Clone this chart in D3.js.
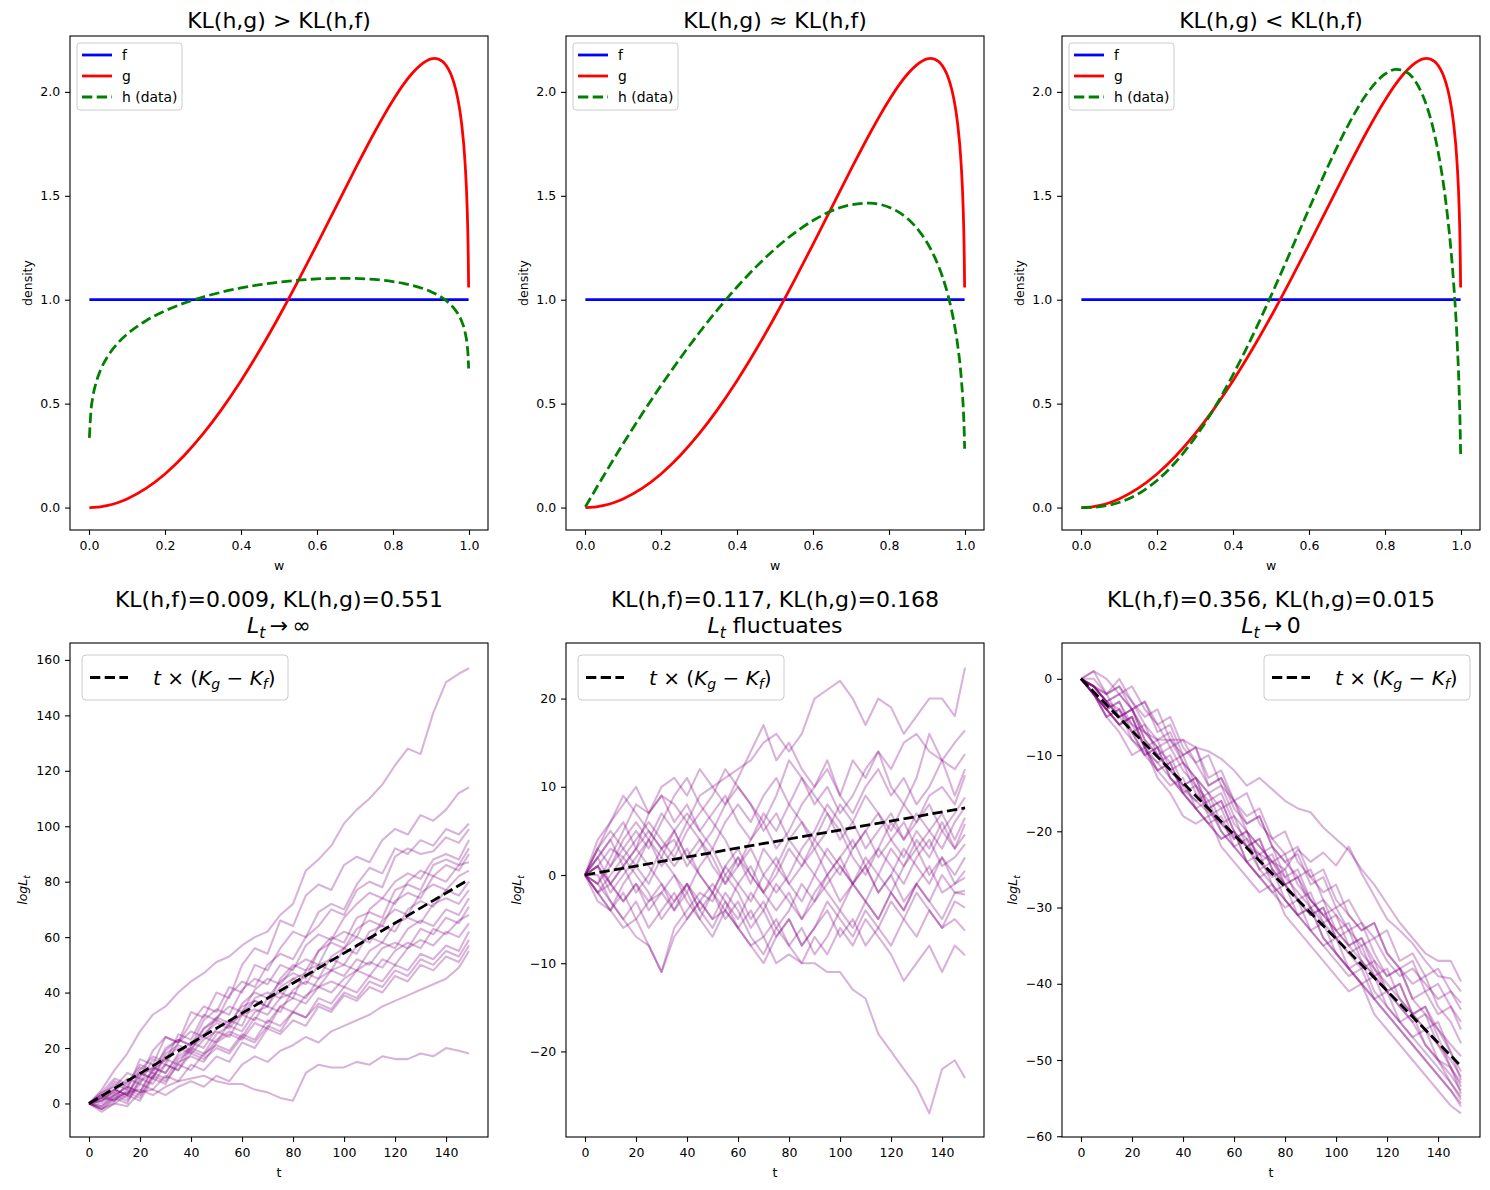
<!DOCTYPE html>
<html>
<head>
<meta charset="utf-8">
<script src="https://cdnjs.cloudflare.com/ajax/libs/d3/7.8.5/d3.min.js"></script>
<style>
  body { margin: 0; background: #ffffff; }
  svg text { font-family: "DejaVu Sans", sans-serif; fill: #000; }
</style>
</head>
<body>
<div id="chart"></div>
<script>
// =========================
// DATA: densities (top row)
// =========================
const W = [0.001, 0.005, 0.01, 0.02, 0.03, 0.05, 0.075, 0.1, 0.15, 0.2, 0.25, 0.3, 0.35, 0.4, 0.45,
  0.5, 0.55, 0.6, 0.65, 0.7, 0.75, 0.8, 0.83, 0.85, 0.88, 0.9, 0.91, 0.93, 0.94, 0.96, 0.97, 0.98,
  0.99, 0.995, 0.998, 0.999];

const F_DENS = [1, 1, 1, 1, 1, 1, 1, 1, 1, 1, 1, 1, 1, 1, 1, 1, 1, 1, 1, 1, 1, 1, 1, 1, 1, 1, 1, 1,
  1, 1, 1, 1, 1, 1, 1, 1];

const G_DENS = [0.0000, 0.0001, 0.0004, 0.0017, 0.0038, 0.0105, 0.0234, 0.0414, 0.0920, 0.1616,
  0.2493, 0.3541, 0.4749, 0.6103, 0.7591, 0.9195, 1.0897, 1.2664, 1.4468, 1.6272, 1.8012, 1.9599,
  2.0421, 2.0885, 2.1401, 2.1594, 2.1615, 2.1470, 2.1268, 2.0454, 1.9714, 1.8556, 1.6485, 1.4497,
  1.2142, 1.0592];

const H_DENS_A = [0.3355, 0.4627, 0.5311, 0.6095, 0.6603, 0.7298, 0.7894, 0.8339, 0.8990, 0.9466,
  0.9835, 1.0129, 1.0368, 1.0566, 1.0726, 1.0848, 1.0939, 1.1002, 1.1031, 1.1026, 1.0976, 1.0874,
  1.0777, 1.0693, 1.0531, 1.0387, 1.0301, 1.0089, 0.9956, 0.9601, 0.9347, 0.8995, 0.8410, 0.7854,
  0.7171, 0.6693];

const H_DENS_B = [0.0032, 0.0158, 0.0316, 0.0630, 0.0942, 0.1558, 0.2315, 0.3058, 0.4496, 0.5868,
  0.7172, 0.8400, 0.9549, 1.0612, 1.1581, 1.2446, 1.3195, 1.3812, 1.4280, 1.4571, 1.4647, 1.4450,
  1.4163, 1.3882, 1.3292, 1.2754, 1.2429, 1.1632, 1.1140, 0.9872, 0.9019, 0.7907, 0.6267, 0.4941,
  0.3596, 0.2828];

const H_DENS_C = [0.0000, 0.0000, 0.0001, 0.0005, 0.0013, 0.0044, 0.0121, 0.0245, 0.0655, 0.1304,
  0.2205, 0.3361, 0.4761, 0.6387, 0.8209, 1.0186, 1.2263, 1.4371, 1.6421, 1.8297, 1.9848, 2.0861,
  2.1087, 2.1023, 2.0506, 1.9801, 1.9311, 1.7983, 1.7099, 1.4716, 1.3080, 1.0957, 0.7947, 0.5690,
  0.3626, 0.2575];

const TOP_TITLES = ["KL(h,g) > KL(h,f)", "KL(h,g) \u2248 KL(h,f)", "KL(h,g) < KL(h,f)"];
const TOP_X_TICKS = [0, 0.2, 0.4, 0.6, 0.8, 1.0];
const TOP_Y_TICKS = [0, 0.5, 1.0, 1.5, 2.0];

// =========================
// DATA: log likelihood paths (bottom row)
// =========================
const T_GRID = [0, 5, 10, 15, 20, 25, 30, 35, 40, 45, 50, 55, 60, 65, 70, 75, 80, 85, 90, 95, 100,
  105, 110, 115, 120, 125, 130, 135, 140, 145, 149];

const KL_HF = ["0.009", "0.117", "0.356"];
const KL_HG = ["0.551", "0.168", "0.015"];
const SUBTITLES = ["\u2009\u2192\u2009\u221e", " fluctuates", "\u2009\u2192\u20090"];
const DRIFT_END = [80.8, 7.6, -50.8];   // dashed line value at t = 149
const BOTTOM_X_TICKS = [0, 20, 40, 60, 80, 100, 120, 140];
const LEFT_Y_TICKS = [0, 20, 40, 60, 80, 100, 120, 140, 160];
const MID_Y_TICKS = [-20, -10, 0, 10, 20];
const RIGHT_Y_TICKS = [-60, -50, -40, -30, -20, -10, 0];

const PATHS_A = [
  [0,5,12,18,26,32,35,40,44,47,51,53,57,60,62,68,72,84,88,93,101,106,110,115,122,128,126,141,152,155,157],
  [0,2,7,5,16,14,24,22,33,31,40,38,50,56,54,66,64,75,79,77,86,89,87,95,99,97,104,102,106,112,114],
  [0,4,6,11,9,19,24,22,29,35,33,42,40,50,48,56,62,60,69,72,70,79,85,83,92,90,95,93,99,97,101],
  [0,1,5,3,12,17,15,25,23,32,30,39,44,42,50,54,52,60,64,70,68,77,80,78,89,92,90,91,96,94,99],
  [0,3,8,6,13,11,20,23,21,30,34,32,41,45,43,50,48,57,61,59,67,72,76,74,80,83,81,88,90,88,95],
  [0,-1,3,6,4,12,16,14,21,25,29,27,33,37,35,45,50,48,55,60,58,67,69,67,77,79,77,86,88,86,92],
  [0,2,4,9,7,16,14,22,26,24,31,35,33,41,45,43,49,52,50,59,62,60,70,74,72,80,84,82,86,84,90],
  [0,3,1,8,11,9,18,21,19,27,30,28,36,40,38,44,47,45,55,58,56,63,66,64,73,76,74,82,80,86,87],
  [0,-2,1,5,3,10,14,12,20,24,22,29,32,30,38,40,38,48,50,48,56,60,58,66,70,68,76,79,77,82,84],
  [0,2,5,3,10,13,11,18,22,20,27,30,28,38,40,38,45,47,45,53,56,54,62,64,62,70,73,71,77,75,80],
  [0,4,9,7,14,12,19,23,21,27,31,29,35,37,35,42,45,43,50,52,50,57,60,58,65,67,65,72,74,72,77],
  [0,0,3,6,4,13,11,17,20,18,25,28,26,33,35,33,41,44,42,48,50,48,55,58,56,63,66,64,70,68,74],
  [0,3,5,3,11,9,17,20,18,23,26,24,32,34,32,38,40,38,45,48,46,52,50,56,58,56,63,61,67,65,71],
  [0,-3,0,3,1,9,7,15,17,15,22,25,23,29,27,35,38,36,42,44,42,48,51,49,55,58,56,63,61,66,68],
  [0,1,4,2,8,11,9,16,19,17,23,26,24,31,29,35,33,39,42,40,45,48,46,52,50,56,59,57,62,60,65],
  [0,2,1,4,2,10,8,14,12,18,21,19,25,23,30,28,33,31,38,36,42,40,46,44,50,48,54,52,57,55,62],
  [0,-1,2,0,9,7,14,12,18,16,20,18,24,22,28,26,33,31,36,34,40,38,44,42,48,46,52,50,55,53,59],
  [0,1,3,1,7,5,10,8,14,12,17,15,22,20,27,25,30,28,35,33,39,37,42,40,46,44,50,48,53,51,57],
  [0,-2,0,-1,4,5,3,6,8,6,10,8,14,17,15,19,21,24,22,26,28,30,32,35,37,39,41,43,45,49,55],
  [0,-2,2,4,5,3,6,8,9,10,8,7,7,5,4,2,1,11,14,13,13,15,14,17,16,16,18,17,20,19,18]
];

const PATHS_B = [
  [0,2,4,6,3,7,9,8,6,9,10,11,12,13,15,16,14,16,20,21,22,20,17,20,19,16,18,20,20,18,23.5],
  [0,-1,2,5,8,7,10,11,9,12,10,8,11,14,17,13,15,12,10,12,9,13,11,14,12,15,16,14,13,15,16.4],
  [0,3,6,9,7,5,3,4,1,3,5,8,10,8,6,9,13,11,8,10,7,9,12,14,10,8,11,16,13,12,13.7],
  [0,1,-2,0,2,4,1,3,6,4,2,-1,1,4,6,3,5,8,10,13,9,7,10,12,9,11,8,10,13,9,12],
  [0,-3,-4,-6,-5,-8,-11,-6,-4,-2,-3,0,2,-1,3,1,4,6,3,5,8,6,9,7,5,8,6,9,10,8,11.3],
  [0,4,6,8,10,7,9,6,8,5,7,9,6,4,7,5,8,11,9,7,4,6,3,5,7,4,6,8,5,7,8.8],
  [0,2,-1,1,-2,0,3,5,2,0,-2,1,-1,-3,0,2,-1,1,3,0,2,4,1,3,6,4,7,5,3,6,7.7],
  [0,-1,1,3,5,3,6,9,11,8,6,4,1,3,0,-2,0,3,5,8,6,3,5,2,4,6,3,5,7,4,6.5],
  [0,1,3,2,4,6,4,2,5,7,9,12,10,8,5,7,4,2,0,3,1,-1,2,0,3,1,4,2,5,3,5.8],
  [0,-2,-4,-1,1,-1,2,0,-3,-5,-2,-4,-1,1,-2,0,3,1,4,2,0,3,5,7,4,2,5,3,6,3,4.6],
  [0,3,5,3,1,4,2,5,7,5,3,6,8,6,9,11,8,6,4,7,5,2,0,3,1,-1,2,4,1,2,3.5],
  [0,1,-1,-3,-1,-4,-2,0,-2,1,3,0,-2,-5,-3,-6,-4,-1,-3,0,2,-1,1,-2,0,3,1,-1,2,0,2],
  [0,-2,0,2,0,-2,-5,-3,-1,-4,-2,-5,-3,-6,-4,-1,-3,-5,-2,0,-3,-1,1,-2,0,-3,-1,1,-2,-1,0.5],
  [0,2,4,1,3,5,3,1,3,0,-2,1,3,0,-2,-4,-2,-5,-3,-1,1,-1,-3,0,-2,1,3,0,2,-1,-0.3],
  [0,0,-3,-5,-3,-6,-4,-2,-5,-3,-1,-3,-6,-4,-7,-5,-8,-6,-9,-7,-4,-6,-3,-5,-2,-4,-1,-3,0,-2,-1.8],
  [0,3,1,4,6,4,7,5,2,4,1,-1,2,0,-2,1,-1,-3,0,-2,-4,-1,-3,-5,-2,-4,-1,-3,-5,-2,-2.2],
  [0,-2,-4,-2,-5,-3,-1,-4,-2,-5,-7,-4,-6,-8,-10,-7,-5,-8,-6,-4,-7,-5,-8,-6,-3,-5,-2,-4,-6,-3,-3.7],
  [0,1,-1,1,3,1,-1,-3,-1,-4,-6,-3,-5,-2,-4,-7,-5,-8,-6,-3,-5,-7,-4,-6,-8,-5,-7,-4,-6,-5,-6.3],
  [0,-1,-3,-5,-7,-8,-11,-7,-5,-3,-5,-2,-4,-7,-9,-6,-8,-10,-7,-9,-6,-8,-5,-7,-9,-12,-10,-8,-11,-8,-9.1],
  [0,-2,-1,-3,-1,-3,-2,-4,-1,-3,-5,-4,-6,-8,-7,-10,-9,-10,-10,-11,-11,-13,-14,-18,-20,-22,-24,-27,-22,-21,-23]
];

const PATHS_C = [
  [0,-1,-3,-4,-6,-7,-8,-8,-8,-9,-9.5,-10.5,-12,-14,-13,-14.5,-16,-17,-17.5,-19.5,-21,-22.5,-25,-27,-29.5,-32,-34,-36,-37,-37,-39.7],
  [0,-2,-4,-6,-8,-9.5,-11,-13,-14.5,-16,-17.5,-19,-20.5,-22,-23,-24,-25,-22.4,-24,-22.8,-24.5,-22,-25.5,-28.5,-31.5,-33,-34.7,-37,-39,-39.3,-41],
  [0,1,-2,-1,-4,-3,-7,-6,-10,-9,-14,-13,-17,-19,-18,-22,-24,-23,-27,-26,-30,-29,-32,-34,-33,-37,-36,-39,-38,-41,-42.5],
  [0,-2,-5,-4,-8,-10,-9,-13,-15,-14,-18,-17,-21,-20,-24,-23,-27,-26,-29,-31,-30,-33,-35,-34,-37,-39,-38,-40,-42,-41,-43.4],
  [0,-1,-2,0,-3,-5,-4,-8,-10,-9,-13,-12,-16,-18,-17,-21,-23,-22,-26,-28,-27,-31,-33,-32,-36,-38,-37,-41,-40,-43,-45],
  [0,-2,-4,-3,-6,-9,-8,-12,-14,-13,-17,-16,-20,-22,-21,-25,-27,-26,-30,-29,-33,-35,-34,-37,-39,-38,-42,-41,-44,-43,-46],
  [0,-1,-3,-2,-1,-4,-6,-5,-9,-11,-10,-14,-16,-15,-19,-21,-20,-24,-26,-25,-29,-31,-33,-32,-36,-38,-40,-39,-43,-45,-47.8],
  [0,-2,-4,-6,-5,-9,-11,-10,-14,-16,-15,-19,-21,-20,-24,-26,-25,-29,-31,-30,-34,-36,-35,-39,-41,-40,-44,-43,-46,-48,-49.5],
  [0,-1,-3,-5,-4,-7,-9,-11,-10,-14,-17,-16,-20,-22,-21,-25,-27,-29,-28,-32,-34,-33,-37,-39,-41,-40,-44,-46,-45,-49,-51.5],
  [0,0,-2,-5,-4,-8,-10,-12,-11,-15,-17,-19,-18,-22,-25,-24,-27,-29,-31,-30,-34,-36,-38,-37,-41,-43,-45,-44,-48,-50,-52.2],
  [0,1,0,-2,-4,-3,-6,-9,-8,-11,-14,-13,-16,-19,-18,-22,-24,-26,-25,-29,-31,-33,-32,-36,-39,-38,-42,-44,-46,-49,-52.6],
  [0,-2,-4,-3,-7,-10,-9,-13,-15,-17,-16,-20,-22,-24,-23,-27,-29,-31,-30,-34,-36,-38,-37,-41,-43,-45,-44,-48,-50,-51,-53],
  [0,-1,-3,-5,-4,-8,-10,-9,-12,-14,-16,-15,-19,-21,-23,-22,-26,-28,-30,-32,-31,-35,-37,-39,-38,-42,-44,-46,-48,-51,-53.5],
  [0,-2,-4,-6,-5,-9,-12,-11,-15,-17,-19,-18,-22,-24,-26,-25,-29,-31,-33,-32,-36,-38,-40,-39,-43,-45,-47,-46,-50,-52,-54],
  [0,-1,-2,-1,-3,-6,-8,-7,-11,-13,-15,-14,-18,-20,-22,-24,-23,-27,-29,-31,-33,-32,-36,-38,-40,-42,-44,-43,-47,-51,-54.4],
  [0,-2,-5,-4,-7,-10,-12,-11,-15,-17,-19,-21,-20,-24,-26,-28,-27,-31,-33,-35,-34,-38,-40,-42,-41,-45,-47,-49,-51,-53,-54.8],
  [0,-1,-3,-2,-4,-7,-9,-8,-11,-13,-15,-17,-16,-20,-22,-24,-26,-25,-29,-31,-33,-35,-34,-38,-41,-43,-45,-48,-50,-53,-55.2],
  [0,-2,-4,-6,-5,-9,-12,-14,-13,-17,-19,-21,-20,-24,-26,-28,-30,-29,-33,-35,-37,-39,-38,-42,-44,-46,-48,-50,-52,-54,-55.7],
  [0,-1,-3,-5,-7,-6,-10,-12,-14,-13,-17,-20,-22,-21,-25,-27,-29,-31,-30,-34,-36,-38,-40,-42,-44,-46,-48,-50,-52,-54,-56.1],
  [0,-2,-5,-7,-10,-9,-13,-15,-18,-19,-18,-22,-24,-26,-28,-27,-31,-33,-35,-37,-39,-41,-40,-44,-46,-48,-50,-52,-54,-56,-57]
];

// =========================
// LAYOUT
// =========================
const AX_LEFT = [70, 566, 1062];
const AX_W = 418;
const AX_H = 494;
const TOP_Y = 36;
const BOT_Y = 643;
const TICK = 4.9;
const TICK_FONT = "12.5px";
const LW = 2.78;
const DASH = "10.3,4.4";

const minus = d => (d < 0 ? "\u2212" + Math.abs(d) : String(d));

const svg = d3.select("#chart")
  .append("svg")
  .attr("width", 1490)
  .attr("height", 1190)
  .style("background", "#ffffff");

function styleAxis(sel) {
  sel.select(".domain").remove();
  sel.selectAll(".tick line").attr("stroke", "#000").attr("stroke-width", 1.1);
  sel.selectAll(".tick text")
    .attr("font-family", "DejaVu Sans, sans-serif")
    .style("font-size", TICK_FONT)
    .attr("fill", "#000");
}

function drawAxes(g, x, y, xTicks, yTicks, xFmt, yFmt) {
  g.append("g")
    .attr("transform", `translate(0,${AX_H})`)
    .call(d3.axisBottom(x).tickValues(xTicks).tickFormat(xFmt)
      .tickSizeInner(TICK).tickSizeOuter(0).tickPadding(TICK))
    .call(styleAxis)
    .selectAll(".tick text").attr("dy", "0.79em");

  g.append("g")
    .call(d3.axisLeft(y).tickValues(yTicks).tickFormat(yFmt)
      .tickSizeInner(TICK).tickSizeOuter(0).tickPadding(TICK))
    .call(styleAxis);
}

function frame(g) {
  g.append("rect")
    .attr("width", AX_W)
    .attr("height", AX_H)
    .attr("fill", "none")
    .attr("stroke", "#000")
    .attr("stroke-width", 1.1);
}

// =========================
// TOP ROW: DENSITIES
// =========================
const H_LIST = [H_DENS_A, H_DENS_B, H_DENS_C];

function drawDensity(i) {
  const g = svg.append("g").attr("transform", `translate(${AX_LEFT[i]},${TOP_Y})`);

  const x = d3.scaleLinear().domain([-0.05, 1.05]).range([0, AX_W]);
  const y = d3.scaleLinear().domain([-0.108, 2.269]).range([AX_H, 0]);

  const line = vals => d3.line()
    .curve(d3.curveMonotoneX)
    .x((d, k) => x(W[k]))
    .y(d => y(d))(vals);

  g.append("path").attr("d", line(F_DENS))
    .attr("fill", "none").attr("stroke", "#0000ff").attr("stroke-width", LW);
  g.append("path").attr("d", line(G_DENS))
    .attr("fill", "none").attr("stroke", "#ff0000").attr("stroke-width", LW)
    .attr("stroke-linejoin", "round");
  g.append("path").attr("d", line(H_LIST[i]))
    .attr("fill", "none").attr("stroke", "#008000").attr("stroke-width", LW)
    .attr("stroke-dasharray", DASH);

  drawAxes(g, x, y, TOP_X_TICKS, TOP_Y_TICKS, d3.format(".1f"), d3.format(".1f"));
  frame(g);

  // title
  svg.append("text")
    .attr("x", AX_LEFT[i] + AX_W / 2)
    .attr("y", 28)
    .attr("text-anchor", "middle")
    .style("font-size", "22px")
    .text(TOP_TITLES[i]);

  // labels
  svg.append("text")
    .attr("x", AX_LEFT[i] + AX_W / 2)
    .attr("y", 570)
    .attr("text-anchor", "middle")
    .style("font-size", "12.5px")
    .text("w");

  svg.append("text")
    .attr("transform", `translate(${AX_LEFT[i] - 38.5},${TOP_Y + AX_H / 2}) rotate(-90)`)
    .attr("text-anchor", "middle")
    .style("font-size", "12.5px")
    .text("density");

  // legend
  const leg = g.append("g").attr("transform", "translate(7,7)");
  leg.append("rect")
    .attr("width", 105).attr("height", 67).attr("rx", 3)
    .attr("fill", "#ffffff").attr("fill-opacity", 0.8)
    .attr("stroke", "#cccccc").attr("stroke-width", 1);

  const items = [
    {label: "f", color: "#0000ff", dash: null},
    {label: "g", color: "#ff0000", dash: null},
    {label: "h (data)", color: "#008000", dash: DASH}
  ];
  items.forEach((it, k) => {
    const cy = 12 + k * 21;
    leg.append("line")
      .attr("x1", 5).attr("x2", 35).attr("y1", cy).attr("y2", cy)
      .attr("stroke", it.color).attr("stroke-width", LW)
      .attr("stroke-dasharray", it.dash);
    leg.append("text")
      .attr("x", 45).attr("y", cy + 4.8)
      .style("font-size", "13.9px")
      .text(it.label);
  });
}

// =========================
// BOTTOM ROW: LOG LIKELIHOOD PATHS
// =========================
const PATH_LIST = [PATHS_A, PATHS_B, PATHS_C];
const Y_DOMAINS = [[-12.1, 166.1], [-29.7, 26.3], [-60.1, 4.7]];
const Y_TICK_LIST = [LEFT_Y_TICKS, MID_Y_TICKS, RIGHT_Y_TICKS];
const YLABEL_OFF = [43, 45, 45];

function mathLabel(text, subSize, shift) {
  text.append("tspan").style("font-style", "italic").text("L");
  text.append("tspan").style("font-style", "italic").style("font-size", subSize)
    .attr("dy", shift).text("t");
  return text.append("tspan").attr("dy", -shift);
}

function drawPaths(i) {
  const g = svg.append("g").attr("transform", `translate(${AX_LEFT[i]},${BOT_Y})`);

  const x = d3.scaleLinear().domain([-7.45, 156.45]).range([0, AX_W]);
  const y = d3.scaleLinear().domain(Y_DOMAINS[i]).range([AX_H, 0]);

  const line = d3.line()
    .defined(d => d[1] !== undefined)
    .x(d => x(d[0]))
    .y(d => y(d[1]));

  PATH_LIST[i].forEach(p => {
    g.append("path")
      .attr("d", line(T_GRID.map((t, k) => [t, p[k]])))
      .attr("fill", "none")
      .attr("stroke", "#800080")
      .attr("stroke-opacity", 0.3)
      .attr("stroke-width", 2.08)
      .attr("stroke-linejoin", "round");
  });

  // expected drift t x (Kg - Kf)
  g.append("path")
    .attr("d", line([[0, 0], [149, DRIFT_END[i]]]))
    .attr("fill", "none")
    .attr("stroke", "#000")
    .attr("stroke-width", LW)
    .attr("stroke-dasharray", DASH);

  drawAxes(g, x, y, BOTTOM_X_TICKS, Y_TICK_LIST[i], d => String(d), minus);
  frame(g);

  // title (two lines)
  const cx = AX_LEFT[i] + AX_W / 2;
  svg.append("text")
    .attr("x", cx).attr("y", 607)
    .attr("text-anchor", "middle")
    .style("font-size", "22px")
    .text(`KL(h,f)=${KL_HF[i]}, KL(h,g)=${KL_HG[i]}`);

  const sub = svg.append("text")
    .attr("x", cx).attr("y", 633)
    .attr("text-anchor", "middle")
    .style("font-size", "22px");
  mathLabel(sub, "15.5px", 4.5).text(SUBTITLES[i]);

  // axis labels
  svg.append("text")
    .attr("x", cx).attr("y", 1177)
    .attr("text-anchor", "middle")
    .style("font-size", "12.5px")
    .text("t");

  const yl = svg.append("text")
    .attr("transform", `translate(${AX_LEFT[i] - YLABEL_OFF[i]},${BOT_Y + AX_H / 2}) rotate(-90)`)
    .attr("text-anchor", "middle")
    .style("font-size", "12.5px");
  yl.append("tspan").style("font-style", "italic").text("log");
  mathLabel(yl, "9px", 2.5).text("");

  // legend
  const lw = 206, lh = 45;
  const lx = i === 2 ? AX_W - lw - 10 : 12;
  const leg = g.append("g").attr("transform", `translate(${lx},12)`);
  leg.append("rect")
    .attr("width", lw).attr("height", lh).attr("rx", 4)
    .attr("fill", "#ffffff").attr("fill-opacity", 0.8)
    .attr("stroke", "#cccccc").attr("stroke-width", 1);
  leg.append("line")
    .attr("x1", 8).attr("x2", 46).attr("y1", lh / 2).attr("y2", lh / 2)
    .attr("stroke", "#000").attr("stroke-width", LW)
    .attr("stroke-dasharray", DASH);

  const lt = leg.append("text")
    .attr("x", 71).attr("y", lh / 2 + 7)
    .style("font-size", "20px");
  lt.append("tspan").style("font-style", "italic").text("t");
  lt.append("tspan").text(" \u00d7 (");
  lt.append("tspan").style("font-style", "italic").text("K");
  lt.append("tspan").style("font-style", "italic").style("font-size", "14px").attr("dy", 4).text("g");
  lt.append("tspan").attr("dy", -4).text(" \u2212 ");
  lt.append("tspan").style("font-style", "italic").text("K");
  lt.append("tspan").style("font-style", "italic").style("font-size", "14px").attr("dy", 4).text("f");
  lt.append("tspan").attr("dy", -4).text(")");
}

[0, 1, 2].forEach(drawDensity);
[0, 1, 2].forEach(drawPaths);
</script>
</body>
</html>
